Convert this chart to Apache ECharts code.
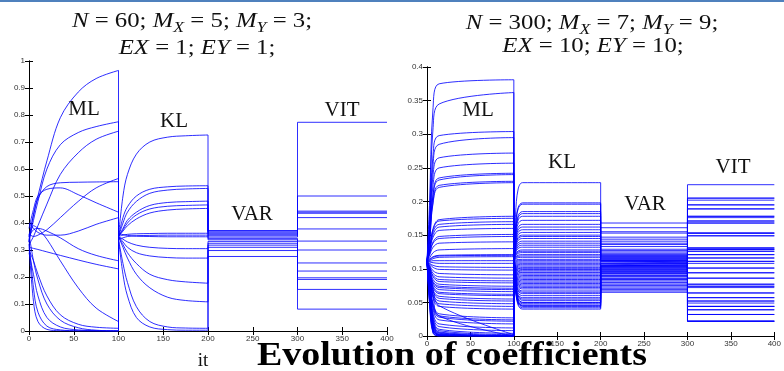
<!DOCTYPE html>
<html>
<head>
<meta charset="utf-8">
<script src="https://cdn.jsdelivr.net/npm/echarts@6/dist/echarts.min.js"></script>
<style>
  html, body { margin: 0; padding: 0; background: #fff; }
  #chart { width: 784px; height: 371px; }
</style>
</head>
<body>
<div id="chart"></div>
<script>
// ---- left panel: N = 60, MX = 5, MY = 3 ----
const leftMlIters = [0, 5, 10, 20, 35, 55, 75, 100];
const leftMl = [
  [0.35, 0.43, 0.50, 0.63, 0.79, 0.885, 0.935, 0.965],
  [0.33, 0.41, 0.48, 0.60, 0.69, 0.735, 0.757, 0.775],
  [0.32, 0.35, 0.39, 0.47, 0.58, 0.66, 0.71, 0.74],
  [0.34, 0.43, 0.49, 0.535, 0.549, 0.551, 0.552, 0.553],
  [0.36, 0.35, 0.355, 0.375, 0.42, 0.48, 0.53, 0.565],
  [0.38, 0.45, 0.50, 0.525, 0.53, 0.505, 0.475, 0.44],
  [0.40, 0.38, 0.365, 0.355, 0.355, 0.37, 0.395, 0.42],
  [0.35, 0.375, 0.38, 0.37, 0.345, 0.305, 0.28, 0.26],
  [0.31, 0.306, 0.302, 0.293, 0.28, 0.263, 0.247, 0.23],
  [0.33, 0.39, 0.38, 0.34, 0.26, 0.16, 0.085, 0.035],
  [0.30, 0.26, 0.21, 0.13, 0.06, 0.025, 0.014, 0.01],
  [0.34, 0.16, 0.07, 0.018, 0.004, 0.001, 0, 0],
  [0.29, 0.21, 0.13, 0.05, 0.015, 0.004, 0.001, 0],
  [0.36, 0.26, 0.19, 0.10, 0.04, 0.012, 0.003, 0],
  [0.32, 0.11, 0.035, 0.006, 0.001, 0, 0, 0]
];
const leftKlIters = [100, 105, 110, 120, 135, 155, 175, 200];
const leftKl = [
  [0.35, 0.50, 0.58, 0.655, 0.70, 0.718, 0.723, 0.726],
  [0.35, 0.42, 0.46, 0.50, 0.525, 0.534, 0.537, 0.538],
  [0.35, 0.40, 0.44, 0.48, 0.51, 0.522, 0.526, 0.528],
  [0.35, 0.38, 0.41, 0.44, 0.465, 0.476, 0.479, 0.481],
  [0.35, 0.375, 0.40, 0.43, 0.452, 0.462, 0.465, 0.467],
  [0.35, 0.37, 0.39, 0.415, 0.437, 0.448, 0.452, 0.454],
  [0.35, 0.355, 0.358, 0.36, 0.361, 0.362, 0.362, 0.362],
  [0.34, 0.345, 0.35, 0.353, 0.354, 0.355, 0.355, 0.355],
  [0.36, 0.357, 0.354, 0.351, 0.35, 0.349, 0.349, 0.349],
  [0.35, 0.34, 0.33, 0.318, 0.31, 0.306, 0.305, 0.305],
  [0.35, 0.33, 0.31, 0.29, 0.278, 0.272, 0.27, 0.27],
  [0.35, 0.32, 0.29, 0.25, 0.21, 0.19, 0.182, 0.177],
  [0.35, 0.31, 0.27, 0.21, 0.16, 0.125, 0.113, 0.108],
  [0.34, 0.25, 0.18, 0.09, 0.035, 0.015, 0.011, 0.01],
  [0.34, 0.21, 0.13, 0.05, 0.015, 0.005, 0.003, 0.003]
];
const leftVar = [0.372, 0.370, 0.366, 0.362, 0.358, 0.353, 0.348, 0.343, 0.338, 0.332, 0.325, 0.318, 0.310, 0.298, 0.276];
const leftVit = [0.773, 0.500, 0.444, 0.440, 0.436, 0.420, 0.378, 0.333, 0.300, 0.252, 0.222, 0.197, 0.191, 0.154, 0.081];

// ---- right panel: N = 300, MX = 7, MY = 9 ----
const rightStart = 0.111;
const rightMlIters = [0, 3, 7, 14, 100];
const rightMl = [
  [0.20, 0.34, 0.375, 0.381], [0.18, 0.31, 0.345, 0.362], [0.165, 0.27, 0.298, 0.304], [0.16, 0.255, 0.285, 0.295],
  [0.155, 0.24, 0.265, 0.272], [0.15, 0.225, 0.25, 0.257], [0.145, 0.21, 0.235, 0.242], [0.145, 0.21, 0.232, 0.24],
  [0.14, 0.2, 0.224, 0.23], [0.14, 0.198, 0.221, 0.228],
  [0.13, 0.16, 0.173, 0.178], [0.13, 0.158, 0.171, 0.175], [0.128, 0.155, 0.166, 0.17], [0.127, 0.151, 0.162, 0.166],
  [0.126, 0.147, 0.157, 0.16], [0.123, 0.14, 0.148, 0.151], [0.122, 0.138, 0.145, 0.148], [0.12, 0.132, 0.138, 0.14],
  [0.116, 0.124, 0.128, 0.13], [0.114, 0.118, 0.12, 0.121], [0.113, 0.117, 0.119, 0.12], [0.112, 0.115, 0.117, 0.118],
  [0.111, 0.112, 0.112, 0.112], [0.11, 0.109, 0.108, 0.108], [0.108, 0.105, 0.103, 0.102], [0.107, 0.102, 0.099, 0.098],
  [0.105, 0.097, 0.093, 0.091], [0.104, 0.093, 0.088, 0.086], [0.102, 0.09, 0.084, 0.082], [0.101, 0.088, 0.081, 0.079],
  [0.1, 0.084, 0.077, 0.074], [0.098, 0.081, 0.074, 0.071], [0.098, 0.079, 0.072, 0.069], [0.097, 0.077, 0.069, 0.066],
  [0.095, 0.074, 0.065, 0.062], [0.095, 0.072, 0.063, 0.06], [0.093, 0.068, 0.059, 0.055], [0.092, 0.066, 0.056, 0.052],
  [0.09, 0.062, 0.052, 0.048], [0.089, 0.059, 0.048, 0.044], [0.088, 0.056, 0.044, 0.04], [0.085, 0.048, 0.033, 0.027],
  [0.084, 0.045, 0.03, 0.024], [0.083, 0.043, 0.028, 0.022], [0.082, 0.04, 0.024, 0.018], [0.08, 0.034, 0.018, 0.012],
  [0.078, 0.03, 0.014, 0.008],
  [0.076, 0.027, 0.01, 0.004], [0.074, 0.024, 0.008, 0.002], [0.072, 0.022, 0.006, 0.001], [0.07, 0.02, 0.005, 0],
  [0.068, 0.018, 0.004, 0], [0.066, 0.016, 0.003, 0], [0.064, 0.014, 0.002, 0], [0.062, 0.012, 0.002, 0],
  [0.06, 0.01, 0.001, 0], [0.058, 0.009, 0.001, 0], [0.055, 0.008, 0.001, 0], [0.052, 0.006, 0, 0],
  [0.05, 0.005, 0, 0], [0.045, 0.004, 0, 0], [0.09, 0.06, 0.03, 0], [0.095, 0.07, 0.045, 0.002]
];
const rightKlIters = [100, 102, 105, 110, 200];
const rightKl = [
  0.228, 0.198, 0.196, 0.185, 0.182, 0.178, 0.172, 0.166, 0.162, 0.158,
  0.154, 0.150, 0.148, 0.145, 0.141, 0.138, 0.135, 0.132, 0.128, 0.126,
  0.124, 0.121, 0.119, 0.117, 0.114, 0.112, 0.110, 0.108, 0.106, 0.104,
  0.102, 0.100, 0.099, 0.097, 0.095, 0.094, 0.092, 0.090, 0.088, 0.086,
  0.084, 0.082, 0.080, 0.078, 0.076, 0.074, 0.072, 0.070, 0.067, 0.065,
  0.063, 0.060, 0.057, 0.055, 0.053, 0.050, 0.048, 0.046, 0.044, 0.042,
  0.040, 0.050, 0.045
];
// how far each KL curve has moved toward its final value at iterations 102 and 105
const rightKlProgress = [0.6, 0.92];
const rightVar = [
  0.168, 0.161, 0.155, 0.153, 0.147, 0.144, 0.141, 0.138, 0.136, 0.133,
  0.129, 0.127, 0.125, 0.123, 0.121, 0.120, 0.119, 0.118, 0.117, 0.116,
  0.115, 0.114, 0.113, 0.112, 0.111, 0.110, 0.109, 0.108, 0.107, 0.106,
  0.105, 0.104, 0.103, 0.102, 0.101, 0.100, 0.099, 0.098, 0.097, 0.096,
  0.095, 0.094, 0.093, 0.092, 0.090, 0.089, 0.088, 0.086, 0.085, 0.084,
  0.082, 0.080, 0.079, 0.077, 0.075, 0.073, 0.071, 0.069, 0.067, 0.065,
  0.112, 0.108, 0.104
];
const rightVit = [
  0.225, 0.205, 0.202, 0.195, 0.189, 0.178, 0.176, 0.171, 0.168, 0.153,
  0.149, 0.131, 0.129, 0.126, 0.121, 0.116, 0.111, 0.108, 0.101, 0.094,
  0.086, 0.077, 0.074, 0.072, 0.064, 0.057, 0.052, 0.049, 0.044, 0.039,
  0.032, 0.022,
  0.205, 0.195, 0.189, 0.178, 0.171, 0.168, 0.153, 0.153, 0.149, 0.131,
  0.129, 0.129, 0.126, 0.121, 0.116, 0.111, 0.101, 0.094, 0.086, 0.077,
  0.074, 0.064, 0.057, 0.052, 0.044, 0.044, 0.039, 0.032, 0.022, 0.022,
  0.022
];

const lineColor = 'rgba(0, 0, 255, 0.82)';
const serif = 'Liberation Serif';

function seg(axis, pts, smooth) {
  return {
    type: 'line', xAxisIndex: axis, yAxisIndex: axis, data: pts,
    smooth: smooth ? 0.35 : false,
    symbol: 'none', silent: true, animation: false,
    lineStyle: { color: lineColor, width: 1 }
  };
}

function buildPanel(axis, mlIters, mlRows, klIters, klRows, varVals, vitVals) {
  const out = [];
  for (let i = 0; i < mlRows.length; i++) {
    const ml = mlRows[i], kl = klRows[i];
    out.push(seg(axis, mlIters.map((x, j) => [x, ml[j]]), true));
    out.push(seg(axis, [[100, ml[ml.length - 1]], [100, kl[0]]], false));
    out.push(seg(axis, klIters.map((x, j) => [x, kl[j]]), true));
    out.push(seg(axis, [
      [200, kl[kl.length - 1]], [200, varVals[i]], [300, varVals[i]],
      [300, vitVals[i]], [400, vitVals[i]]
    ], false));
  }
  return out;
}

const rightKlRows = rightKl.map(f => [
  rightStart,
  rightStart + (f - rightStart) * rightKlProgress[0],
  rightStart + (f - rightStart) * rightKlProgress[1],
  f, f
]);

const series = buildPanel(0, leftMlIters, leftMl, leftKlIters, leftKl, leftVar, leftVit).concat(
  buildPanel(2, rightMlIters, rightMl.map(r => [rightStart].concat(r)),
    rightKlIters, rightKlRows, rightVar, rightVit)
);

const tickFont = { fontSize: 8, color: '#333', fontFamily: 'Liberation Sans', margin: 4 };
function xAx(grid, pos, labels) {
  return {
    type: 'value', gridIndex: grid, position: pos, min: 0, max: 400, interval: 50,
    axisLine: { show: true, lineStyle: { color: '#000', width: 1 } },
    axisTick: { show: true, inside: true, length: 4, lineStyle: { color: '#000' } },
    axisLabel: Object.assign({ show: labels }, tickFont),
    splitLine: { show: false }
  };
}
function yAx(grid, pos, max, step, labels) {
  return {
    type: 'value', gridIndex: grid, position: pos, min: 0, max: max, interval: step,
    axisLine: { show: true, lineStyle: { color: '#000', width: 1 } },
    axisTick: { show: true, inside: true, length: 4, lineStyle: { color: '#000' } },
    axisLabel: Object.assign({ show: labels }, tickFont),
    splitLine: { show: false }
  };
}

const rich = {
  i: { fontFamily: serif, fontStyle: 'italic', fontSize: 21, lineHeight: 30, fill: '#111' },
  r: { fontFamily: serif, fontSize: 21, lineHeight: 30, fill: '#111' },
  s: { fontFamily: serif, fontStyle: 'italic', fontSize: 15, lineHeight: 15, padding: [15, 0, 0, 0], fill: '#111' }
};
function mathText(x, y, text) {
  return { type: 'text', x: x, y: y, scaleX: 1.18, z: 10, silent: true,
    style: { text: text, rich: rich, align: 'center', verticalAlign: 'middle' } };
}
function label(x, y, text) {
  return { type: 'text', x: x, y: y, z: 10, silent: true,
    style: { text: text, font: '21px "Liberation Serif"', fill: '#111', align: 'center', verticalAlign: 'middle' } };
}

const chart = echarts.init(document.getElementById('chart'), null, { renderer: 'canvas' });
chart.setOption({
  backgroundColor: '#fff',
  animation: false,
  grid: [
    { left: 29, top: 61, width: 358, height: 270 },
    { left: 427, top: 67, width: 355, height: 269 }
  ],
  xAxis: [xAx(0, 'bottom', true), xAx(0, 'top', false), xAx(1, 'bottom', true), xAx(1, 'top', false)],
  yAxis: [yAx(0, 'left', 1, 0.1, true), yAx(0, 'right', 1, 0.1, false),
          yAx(1, 'left', 0.4, 0.05, true), yAx(1, 'right', 0.4, 0.05, false)],
  series: series,
  graphic: [
    { type: 'rect', shape: { x: 0, y: 0, width: 784, height: 2 }, style: { fill: '#4f81bd' }, silent: true },
    mathText(192, 21, '{i|N}{r| = 60; }{i|M}{s|X}{r| = 5; }{i|M}{s|Y}{r| = 3;}'),
    mathText(197, 48, '{i|EX}{r| = 1; }{i|EY}{r| = 1;}'),
    mathText(592, 23, '{i|N}{r| = 300; }{i|M}{s|X}{r| = 7; }{i|M}{s|Y}{r| = 9;}'),
    mathText(593, 46, '{i|EX}{r| = 10; }{i|EY}{r| = 10;}'),
    label(84, 109, 'ML'), label(174, 121, 'KL'), label(252, 214, 'VAR'), label(342, 110, 'VIT'),
    label(478, 110, 'ML'), label(562, 162, 'KL'), label(645, 204, 'VAR'), label(733, 167, 'VIT'),
    { type: 'text', x: 203, y: 361, z: 10, silent: true,
      style: { text: 'it', font: '19px "Liberation Serif"', fill: '#111', align: 'center', verticalAlign: 'middle' } },
    { type: 'text', x: 257, y: 356, z: 10, scaleX: 1.15, silent: true,
      style: { text: 'Evolution of coefficients', font: 'bold 33px "Liberation Serif"', fill: '#000', align: 'left', verticalAlign: 'middle' } }
  ]
});
</script>
</body>
</html>
